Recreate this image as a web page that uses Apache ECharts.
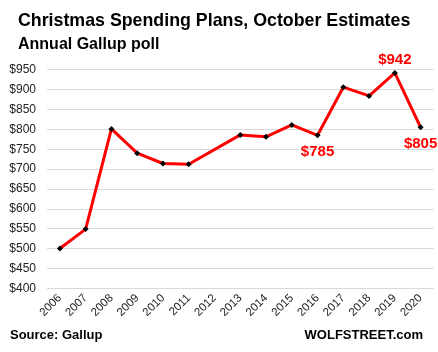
<!DOCTYPE html>
<html>
<head>
<meta charset="utf-8">
<script src="https://cdn.jsdelivr.net/npm/echarts@6/dist/echarts.min.js"></script>
<style>
html, body { margin: 0; padding: 0; background: #fff; }
#chart { width: 438px; height: 352px; }
</style>
</head>
<body>
<div id="chart"></div>
<script>
var years = ["2006", "2007", "2008", "2009", "2010", "2011", "2012", "2013", "2014", "2015", "2016", "2017", "2018", "2019", "2020"];
// 2012: no survey value, line runs from 2011 to 2013
var spending = [500, 549, 801, 740, 714, 712, null, 786, 781, 811, 785, 906, 884, 942, 805];
var labelled = { "2016": ["bottom", 6], "2019": ["top", 3], "2020": ["bottom", 6] };

var font = "'Liberation Sans', Arial, sans-serif";
var chart = echarts.init(document.getElementById("chart"));

var points = [];
for (var i = 0; i < years.length; i++) {
	var p = { value: spending[i] };
	if (labelled[years[i]]) {
		p.label = {
			show: true,
			position: labelled[years[i]][0],
			distance: labelled[years[i]][1],
			formatter: "${c}",
			color: "#ff0000",
			fontWeight: "bold",
			fontSize: 15,
			fontFamily: font
		};
	}
	points.push(p);
}

var option = {
	animation: false,
	title: {
		text: "Christmas Spending Plans, October Estimates",
		subtext: "Annual Gallup poll",
		left: 13,
		top: 7,
		itemGap: 7,
		textStyle: { fontFamily: font, fontWeight: "bold", fontSize: 17.8, color: "#000" },
		subtextStyle: { fontFamily: font, fontWeight: "bold", fontSize: 16, color: "#000" }
	},
	grid: { left: 47, right: 4.5, top: 69.7, bottom: 63.7 },
	xAxis: {
		type: "category",
		data: years,
		boundaryGap: true,
		axisLine: { show: false },
		axisTick: { show: false },
		axisLabel: { rotate: 45, interval: 0, fontSize: 11.5, color: "#222", fontFamily: font, margin: 8 }
	},
	yAxis: {
		type: "value",
		min: 400,
		max: 950,
		interval: 50,
		axisLine: { show: false },
		axisTick: { show: false },
		splitLine: { lineStyle: { color: "#d9d9d9", width: 1 } },
		axisLabel: { formatter: "${value}", fontSize: 12, color: "#222", fontFamily: font, margin: 11 }
	},
	series: [{
		type: "line",
		data: points,
		connectNulls: true,
		symbol: "diamond",
		symbolSize: 6,
		itemStyle: { color: "#000" },
		lineStyle: { color: "#ff0000", width: 3 },
		z: 3
	}],
	graphic: [
		{ type: "text", left: 10, top: 329, style: { text: "Source: Gallup", font: "bold 13px " + font, fill: "#000" } },
		{ type: "text", right: 15, top: 329, style: { text: "WOLFSTREET.com", font: "900 13px " + font, fill: "#000" } }
	]
};
chart.setOption(option);
</script>
</body>
</html>
